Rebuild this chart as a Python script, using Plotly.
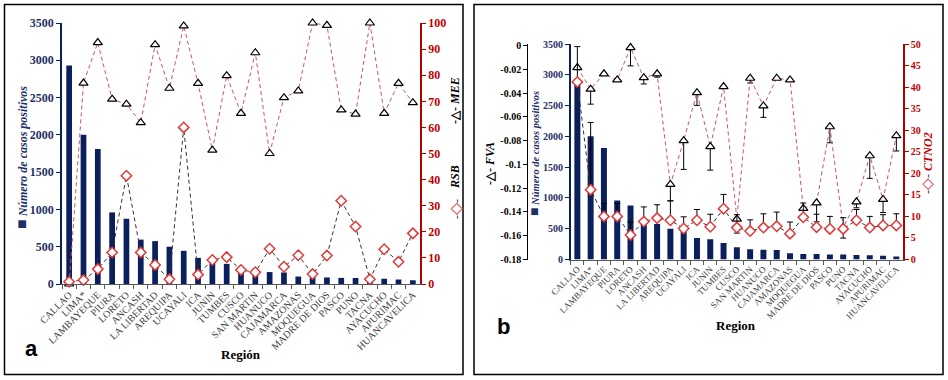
import plotly.graph_objects as go

W, H = 948, 380

regions = ["CALLAO", "LIMA*", "LAMBAYEQUE", "PIURA", "LORETO", "ANCASH", "LA LIBERTAD",
           "AREQUIPA", "UCAYALI", "ICA", "JUNIN", "TUMBES", "CUSCO", "SAN MARTIN",
           "HUANUCO", "CAJAMARCA", "AMAZONAS", "MOQUEGUA", "MADRE DE DIOS", "PASCO",
           "PUNO", "TACNA", "AYACUCHO", "APURIMAC", "HUANCAVELICA"]
cases = [2930, 2000, 1810, 960, 875, 595, 575, 500, 445, 350, 330, 270, 200, 165, 160,
         155, 100, 90, 88, 82, 80, 72, 70, 60, 50]
mee = [0, 77, 92.5, 70.8, 68.9, 61.8, 91.7, 75, 98.9, 76.9, 51.3, 79.8, 65.4, 88.6, 50,
       71.4, 74, 100, 99.1, 66.7, 65.1, 100, 65.4, 76.9, 69.5]
rsb = [0.9, 1.5, 5.7, 12.1, 41.5, 12.1, 7.3, 1.8, 60, 3.6, 9.2, 10.3, 5.4, 4.5, 13.5,
       6.6, 11, 3.8, 10.9, 31.9, 22, 1.8, 13.3, 8.5, 19.4]
fva = [-0.0185, -0.0367, -0.0238, -0.0289, -0.0017, -0.027, -0.0238, -0.1168, -0.080,
       -0.0396, -0.085, -0.0345, -0.146, -0.0275, -0.0508, -0.0275, -0.0289, -0.137,
       -0.1323, -0.0683, -0.153, -0.1315, -0.0927, -0.1295, -0.0758]
fva_err = [0, 0.0126, 0, 0, 0.0154, 0.0053, 0.0028, 0.0138, 0.0242, 0.0107, 0.0198, 0,
           0.0118, 0.004, 0.0096, 0, 0, 0, 0.016, 0.0135, 0.009, 0.005, 0.019, 0.011, 0.0129]
ctno2 = [41.2, 16.2, 10, 10, 5.7, 8.8, 9.6, 9.1, 7.2, 9.1, 7.6, 11.8, 7.4, 6.6, 7.4, 7.7,
         6.0, 9.8, 7.5, 7.1, 7.1, 9.1, 7.4, 7.9, 7.9]
ctno2_err = [8.2, 15.6, 3, 3, 3, 3.4, 3.1, 4.5, 2.7, 2.5, 2.9, 3.3, 3, 2.6, 3.2, 3.3, 2.7,
             3.3, 3, 2.9, 2.6, 2.5, 2.6, 2.5, 2.7]

fva_ticks = [-0.18, -0.16, -0.14, -0.12, -0.1, -0.08, -0.06, -0.04, -0.02, 0]
fva_ticktext = ["-0.18", "-0.16", "-0.14", "-0.12", "-0.1", "-0.08", "-0.06", "-0.04", "-0.02", "0"]

NAVY = "#0b1f5c"
NAVY_T = "#1f2f66"
RED = "#b00000"
RED_T = "#c00000"
ROSE = "#c4566a"
DIA = "#e03a3a"
SERIF = "Liberation Serif, Times New Roman, serif"
SANS = "Liberation Sans, Arial, sans-serif"
DASH = "4px,3px"


def px(x):
    return x / W


def py(y):
    return 1 - y / H


fig = go.Figure()

# ---------------- Panel a ----------------
fig.add_trace(go.Bar(x=regions, y=cases, xaxis="x", yaxis="y", width=0.4,
                     marker=dict(color=NAVY, line=dict(width=0)), showlegend=False))
fig.add_trace(go.Scatter(x=regions, y=mee, xaxis="x", yaxis="y2", mode="lines+markers",
                         line=dict(color=ROSE, width=1, dash=DASH),
                         marker=dict(symbol="triangle-up", size=8, color="white",
                                     line=dict(color="black", width=1.2)),
                         cliponaxis=False, showlegend=False))
fig.add_trace(go.Scatter(x=regions, y=rsb, xaxis="x", yaxis="y2", mode="lines+markers",
                         line=dict(color="#333333", width=1, dash=DASH),
                         marker=dict(symbol="diamond", size=8, color="white",
                                     line=dict(color=DIA, width=1.5)),
                         cliponaxis=False, showlegend=False))

# ---------------- Panel b ----------------
fig.add_trace(go.Bar(x=regions, y=cases, xaxis="x2", yaxis="y3", width=0.45,
                     marker=dict(color=NAVY, line=dict(width=0)), showlegend=False))
fig.add_trace(go.Scatter(x=regions, y=fva, xaxis="x2", yaxis="y4", mode="lines+markers",
                         line=dict(color=ROSE, width=1, dash=DASH),
                         marker=dict(symbol="triangle-up", size=8, color="white",
                                     line=dict(color="black", width=1.2)),
                         error_y=dict(type="data", symmetric=False,
                                      array=[0] * len(fva), arrayminus=fva_err,
                                      color="black", thickness=1, width=3),
                         cliponaxis=False, showlegend=False))
fig.add_trace(go.Scatter(x=regions, y=ctno2, xaxis="x2", yaxis="y5", mode="lines+markers",
                         line=dict(color="#333333", width=1, dash=DASH),
                         marker=dict(symbol="diamond", size=8, color="white",
                                     line=dict(color=DIA, width=1.5)),
                         error_y=dict(type="data", symmetric=False,
                                      array=ctno2_err, arrayminus=[0] * len(ctno2),
                                      color="black", thickness=1, width=3),
                         cliponaxis=False, showlegend=False))

xcommon = dict(type="category", range=[-0.5, 24.5], tickangle=-45, automargin=False,
               showline=True, linecolor="#595959", linewidth=1, ticks="outside",
               ticklen=4, tickcolor="#595959", tickson="boundaries", showgrid=False,
               zeroline=False)

fig.update_layout(
    width=W, height=H,
    margin=dict(l=0, r=0, t=0, b=0, autoexpand=False),
    paper_bgcolor="white", plot_bgcolor="white",
    bargap=0.5,
    xaxis=dict(xcommon, domain=[px(62), px(420)], anchor="y",
               tickfont=dict(family=SERIF, size=10, color="#404040")),
    yaxis=dict(domain=[py(284), py(23)], range=[0, 3500], dtick=500, showline=True,
               linecolor=NAVY, linewidth=1.5, ticks="outside", ticklen=4, tickcolor=NAVY,
               showgrid=False, zeroline=False, automargin=False,
               tickfont=dict(family=SERIF, size=12, color=NAVY_T, weight="bold")),
    yaxis2=dict(overlaying="y", side="right", anchor="x", range=[0, 100], dtick=10,
                showline=True, linecolor=RED, linewidth=1.5, ticks="outside", ticklen=4,
                tickcolor=RED, showgrid=False, zeroline=False, automargin=False,
                tickfont=dict(family=SERIF, size=12, color=RED_T, weight="bold")),
    xaxis2=dict(xcommon, domain=[px(570.7), px(903)], anchor="y3",
                tickfont=dict(family=SERIF, size=9, color="#404040")),
    yaxis3=dict(domain=[py(259.5), py(44)], range=[0, 3500], dtick=500, showline=True,
                linecolor=NAVY, linewidth=1.5, ticks="outside", ticklen=4, tickcolor=NAVY,
                showgrid=False, zeroline=False, anchor="x2", automargin=False,
                tickfont=dict(family=SERIF, size=10, color=NAVY_T, weight="bold")),
    yaxis4=dict(overlaying="y3", anchor="free", position=px(527.3), side="left",
                range=[-0.18, 0.0013], tickvals=fva_ticks, ticktext=fva_ticktext,
                showline=True, linecolor="black", linewidth=1.2, ticks="outside",
                ticklen=4, tickcolor="black", showgrid=False, zeroline=False,
                automargin=False,
                tickfont=dict(family=SERIF, size=10, color="black", weight="bold")),
    yaxis5=dict(overlaying="y3", anchor="x2", side="right", range=[0, 50], dtick=5,
                showline=True, linecolor=RED, linewidth=1.5, ticks="outside", ticklen=4,
                tickcolor=RED, showgrid=False, zeroline=False, automargin=False,
                tickfont=dict(family=SERIF, size=10, color=RED_T, weight="bold")),
)

ann = []


def A(x, y, text, size, color="black", angle=-90, family=SERIF, **kw):
    ann.append(dict(x=px(x), y=py(y), xref="paper", yref="paper", text=text,
                    showarrow=False, textangle=angle, xanchor="center", yanchor="middle",
                    font=dict(family=family, size=size, color=color), **kw))


# panel a titles
A(22, 158, "<span style='font-size:16px'>■</span> <b><i>Número de casos positivos</i></b>", 12, NAVY_T)
A(455, 101, "<b>-△- <i>MEE</i></b>", 12, "black")
A(455, 177, "<b><i>RSB</i></b>", 12, "black")
A(455, 209, "-<span style='color:%s;font-size:16px'>◇</span>-" % DIA, 12, "#333333")
A(241, 354, "<b>Región</b>", 13, "black", angle=0)
A(31, 348, "<b>a</b>", 22, "black", angle=0, family=SANS)

# panel b titles
A(490, 164, "<b>-△- <i>FVA</i></b>", 12, "black")
A(535, 154, "<span style='font-size:14px'>■</span> <b><i>Número de casos positivos</i></b>", 10.5, NAVY_T)
A(927, 163, "-<span style='color:%s;font-size:15px'>◇</span>- <b><i><span style='color:%s'>CTNO2</span></i></b>" % (DIA, RED_T), 12, "#333333")
A(736, 325, "<b>Region</b>", 13, "black", angle=0)
A(503, 326, "<b>b</b>", 22, "black", angle=0, family=SANS)

fig.update_layout(annotations=ann)

shapes = [
    dict(type="rect", xref="paper", yref="paper", x0=px(4.5), x1=px(463), y0=py(374.5), y1=py(4.5),
         line=dict(color="black", width=1.5)),
    dict(type="rect", xref="paper", yref="paper", x0=px(474), x1=px(943), y0=py(374.5), y1=py(4.5),
         line=dict(color="black", width=1.5)),
]
fig.update_layout(shapes=shapes)

fig.write_html("out.html", config={"displayModeBar": False},
               post_script="document.body.style.margin='0';document.body.style.overflow='hidden';")
